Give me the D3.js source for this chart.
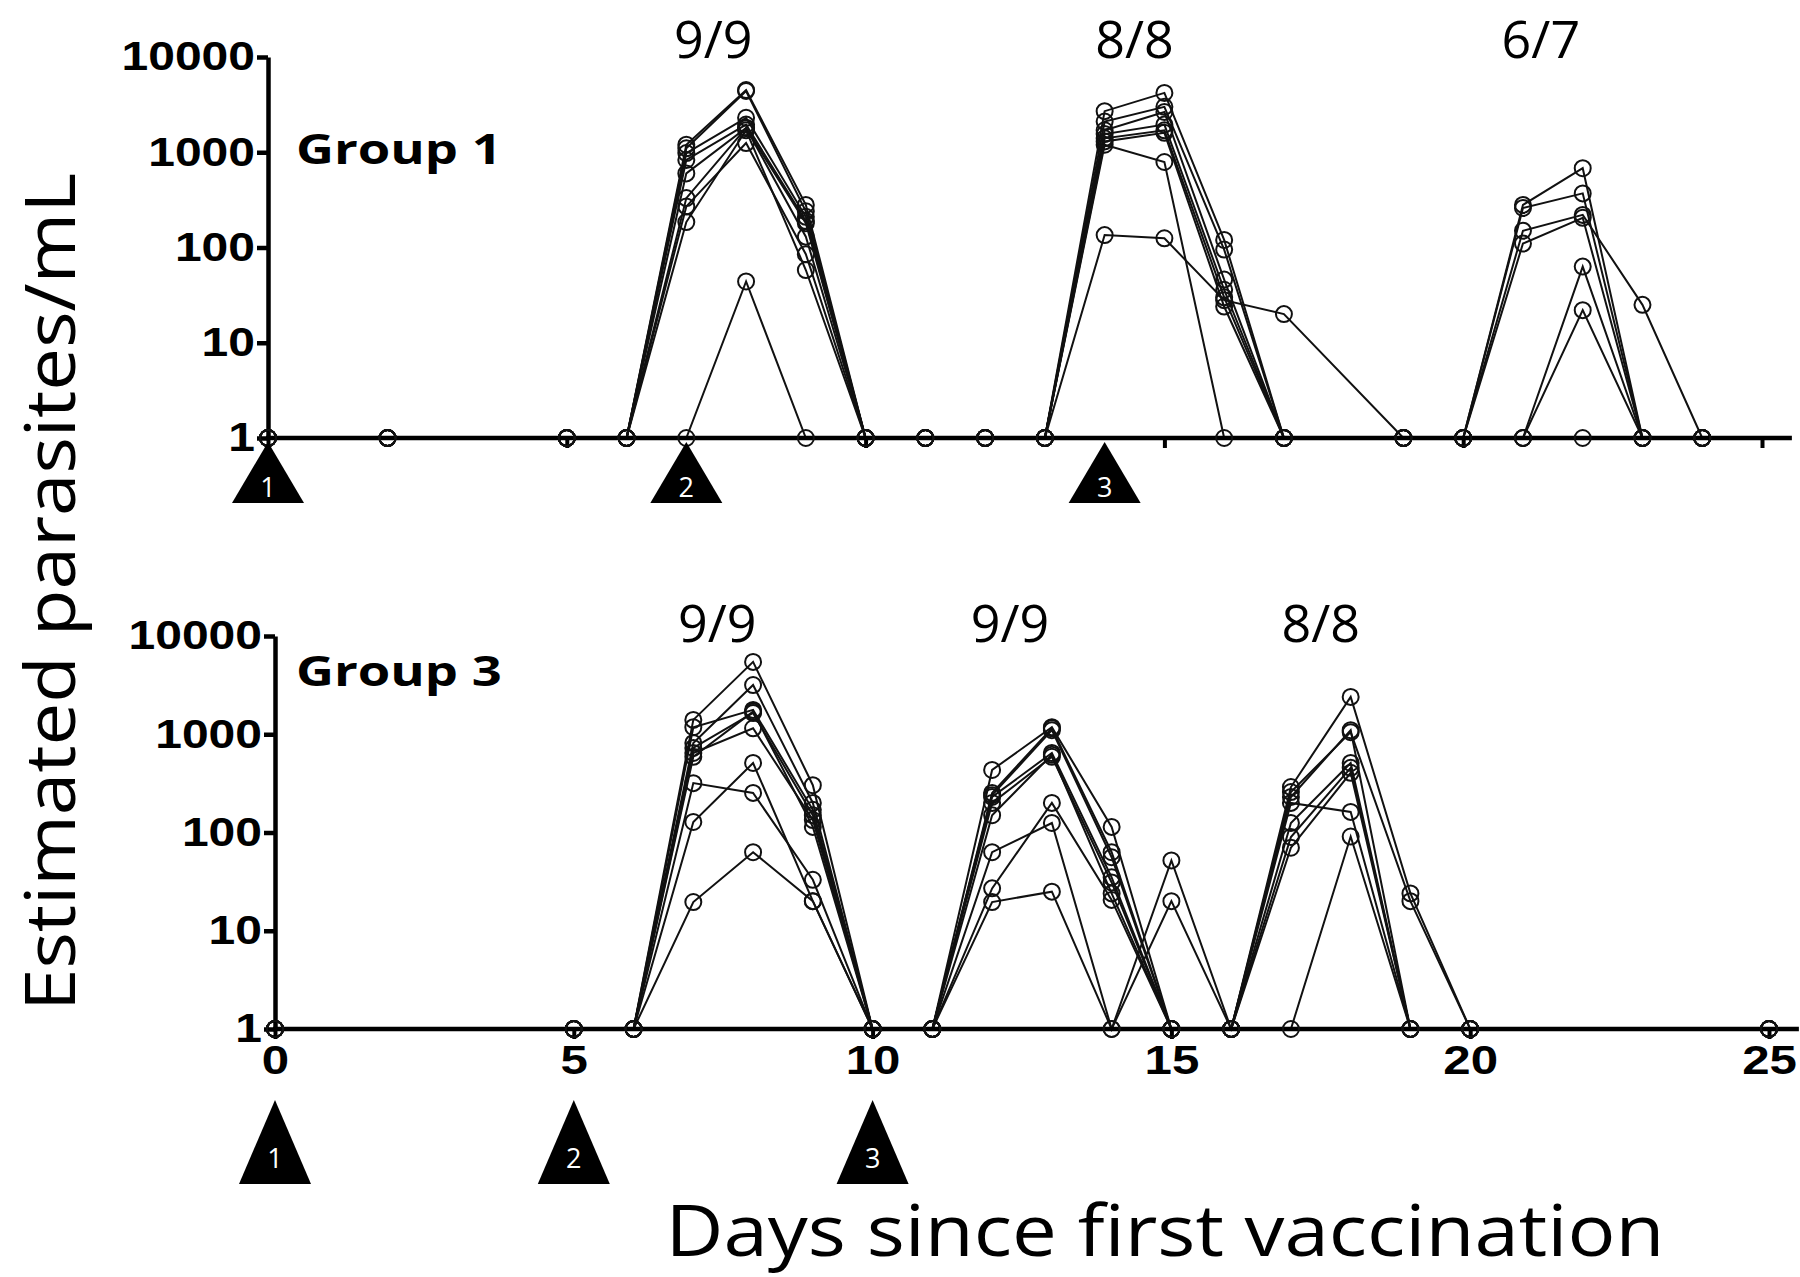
<!DOCTYPE html>
<html>
<head>
<meta charset="utf-8">
<script src="https://cdn.jsdelivr.net/npm/d3@7"></script>
<style>
  body { margin: 0; background: #fff; }
  svg { display: block; }
</style>
</head>
<body>
<svg id="chart"></svg>
<script>
// ---- data ----
// Group 1: sampling days and one row per animal (null = not sampled)
const daysG1 = [0, 2, 5, 6, 7, 8, 9, 10, 11, 12, 13, 14, 15, 16, 17, 19, 20, 21, 22, 23, 24];
const seriesG1 = [
  [1, 1, 1, 1, 1200, 4500, 280, 1, 1, 1, 1, 2700, 4200, 120, 1, 1, 1, 280, 680, 1, 1],
  [1, 1, 1, 1, 1100, 4400, 240, 1, 1, 1, 1, 2100, 3000, 95, 1, 1, 1, 260, 370, 1, 1],
  [1, 1, 1, 1, 980, 2300, 210, 1, 1, 1, 1, 1700, 2650, 46, 1, 1, 1, 150, 220, 25, 1],
  [1, 1, 1, 1, 830, 1950, 190, 1, 1, 1, 1, 1550, 1950, 36, 1, 1, 1, 110, 205, 1, 1],
  [1, 1, 1, 1, 600, 1800, 180, 1, 1, 1, 1, 1400, 1700, 30, 1, 1, 1, 1, 63, 1, 1],
  [1, 1, 1, 1, 330, 1800, 130, 1, 1, 1, 1, 1300, 1600, 24, 1, 1, 1, 1, 22, 1, 1],
  [1, 1, 1, 1, 270, 1250, 85, 1, 1, 1, 1, 1200, 790, 1, 1, 1, 1, 1, 1, 1, 1],
  [1, 1, 1, 1, 185, 1700, 58, 1, 1, 1, 1, 135, 125, 28, 20, 1, null, null, null, null, null],
  [1, 1, 1, 1, 1, 44, 1, 1, 1, 1, 1, null, null, null, null, null, null, null, null, null, null]
];

// Group 3
const daysG3 = [0, 5, 6, 7, 8, 9, 10, 11, 12, 13, 14, 15, 16, 17, 18, 19, 20, 25];
const seriesG3 = [
  [1, 1, 1, 1400, 5450, 303, 1, 1, 433, 1180, 114, 1, 1, 290, 2400, 24, 1, 1],
  [1, 1, 1, 1180, 1770, 170, 1, 1, 253, 1150, 63, 1, 1, 258, 1050, 20, 1, 1],
  [1, 1, 1, 815, 3170, 200, 1, 1, 240, 1100, 56, 1, 1, 230, 1100, 1, 1, 1],
  [1, 1, 1, 725, 1650, 150, 1, 1, 230, 645, 35, 1, 1, 200, 162, 1, 1, 1],
  [1, 1, 1, 645, 1150, 134, 1, 1, 200, 590, 31, 1, 1, 125, 510, 1, 1, 1],
  [1, 1, 1, 590, 1700, 114, 1, 1, 150, 620, 24, 1, 1, 90, 455, 1, 1, 1],
  [1, 1, 1, 318, 253, 33, 1, 1, 63, 125, 1, 52, 1, 70, 405, 1, 1, 1],
  [1, 1, 1, 128, 510, 20, 1, 1, 27, 200, 20.6, 1, 1, 1, 91, 1, 1, 1],
  [1, 1, 1, 19.6, 63, 20, 1, 1, 19.6, 25, 1, 20, 1, null, null, null, null, null]
];

// infected / total labels over each wave
const waveLabelsG1 = ["9/9", "8/8", "6/7"];
const waveDaysG1 = [7.45, 14.5, 21.3];
const waveLabelsG3 = ["9/9", "9/9", "8/8"];
const waveDaysG3 = [7.4, 12.3, 17.5];

// vaccination days
const vaccDaysG1 = [0, 7, 14];
const vaccDaysG3 = [0, 5, 10];
const vaccLabels = ["1", "2", "3"];

const yTicks = [1, 10, 100, 1000, 10000];
const xTicks = [0, 5, 10, 15, 20, 25];

// ---- layout ----
const width = 1800;
const height = 1277;
const tickFont = "'Liberation Sans', Arial, sans-serif";
const textFont = "'Open Sans', 'Noto Sans', sans-serif";
const stretch = 1.2; // the figure's text is a little wider than these fonts

const svg = d3.select('#chart')
    .attr('width', width)
    .attr('height', height);

const panels = [
  {name: "Group 1", days: daysG1, series: seriesG1, waveLabels: waveLabelsG1, waveDays: waveDaysG1,
   vacc: vaccDaysG1, x0: 268, x1: 1762, yBottom: 438, yTop: 57, showXLabels: false,
   labelBase: 58, groupBase: 164, triTop: 442, triBase: 503, numBase: 497},
  {name: "Group 3", days: daysG3, series: seriesG3, waveLabels: waveLabelsG3, waveDays: waveDaysG3,
   vacc: vaccDaysG3, x0: 275, x1: 1769, yBottom: 1029, yTop: 636, showXLabels: true,
   labelBase: 642, groupBase: 686, triTop: 1100, triBase: 1184, numBase: 1168}
];

panels.forEach(function(p) {
  const x = d3.scaleLinear().domain([0, 25]).range([p.x0, p.x1]);
  const y = d3.scaleLog().domain([1, 10000]).range([p.yBottom, p.yTop]);
  const g = svg.append('g');

  // lines per animal
  const line = d3.line()
      .defined(function(d) { return d.v != null; })
      .x(function(d) { return x(d.day); })
      .y(function(d) { return y(d.v); });

  const rows = p.series.map(function(s) {
    return s.map(function(v, i) { return {day: p.days[i], v: v}; });
  });

  g.selectAll('path.subject')
      .data(rows)
      .enter()
      .append('path')
      .attr('class', 'subject')
      .attr('d', line)
      .attr('fill', 'none')
      .attr('stroke', '#111')
      .attr('stroke-width', 2);

  // y axis
  const yAxis = g.append('g')
      .attr('transform', 'translate(' + p.x0 + ',0)')
      .call(d3.axisLeft(y).tickValues(yTicks).tickFormat(d3.format('d')).tickSize(11).tickSizeOuter(0));
  yAxis.select('.domain').attr('stroke', '#000').attr('stroke-width', 4.5);
  yAxis.selectAll('.tick line').attr('stroke', '#000').attr('stroke-width', 4.5);
  yAxis.selectAll('.tick text')
      .attr('fill', '#000')
      .attr('x', 0)
      .attr('transform', 'translate(-13,0) scale(' + stretch + ',1)')
      .style('font-family', tickFont)
      .style('font-weight', 'bold')
      .style('font-size', '40px');

  // x axis
  const xAxis = g.append('g')
      .attr('transform', 'translate(0,' + p.yBottom + ')')
      .call(d3.axisBottom(x).tickValues(xTicks)
        .tickFormat(p.showXLabels ? d3.format('d') : '')
        .tickSize(10).tickSizeOuter(0));
  xAxis.select('.domain').remove();
  xAxis.selectAll('.tick line').attr('stroke', '#000').attr('stroke-width', 4);
  xAxis.selectAll('.tick text')
      .attr('fill', '#000')
      .attr('y', 0)
      .attr('transform', 'translate(0,16) scale(' + stretch + ',1)')
      .style('font-family', tickFont)
      .style('font-weight', 'bold')
      .style('font-size', '41px');
  xAxis.append('line')
      .attr('x1', x(0) - 2)
      .attr('x2', x(25.5))
      .attr('y1', 0)
      .attr('y2', 0)
      .attr('stroke', '#000')
      .attr('stroke-width', 4.5);

  // open circles
  const pts = [];
  rows.forEach(function(r) { r.forEach(function(d) { if (d.v != null) pts.push(d); }); });
  g.selectAll('circle.pt')
      .data(pts)
      .enter()
      .append('circle')
      .attr('class', 'pt')
      .attr('cx', function(d) { return x(d.day); })
      .attr('cy', function(d) { return y(d.v); })
      .attr('r', 8)
      .attr('fill', 'none')
      .attr('stroke', '#111')
      .attr('stroke-width', 2);

  // infected counts
  g.selectAll('text.wave')
      .data(p.waveLabels)
      .enter()
      .append('text')
      .attr('class', 'wave')
      .attr('x', function(d, i) { return x(p.waveDays[i]); })
      .attr('y', p.labelBase)
      .attr('text-anchor', 'middle')
      .style('font-family', textFont)
      .style('font-size', '52px')
      .text(function(d) { return d; });

  // group name
  g.append('text')
      .attr('transform', 'translate(296,' + p.groupBase + ') scale(1.25,1)')
      .style('font-family', textFont)
      .style('font-weight', 'bold')
      .style('font-size', '42px')
      .text(p.name);

  // vaccination triangles
  const tri = g.selectAll('g.vacc')
      .data(p.vacc)
      .enter()
      .append('g')
      .attr('class', 'vacc')
      .attr('transform', function(d) { return 'translate(' + x(d) + ',0)'; });
  tri.append('path')
      .attr('d', 'M0,' + p.triTop + 'L36,' + p.triBase + 'L-36,' + p.triBase + 'Z')
      .attr('fill', '#000');
  tri.append('text')
      .attr('x', 0)
      .attr('y', p.numBase)
      .attr('text-anchor', 'middle')
      .attr('fill', '#fff')
      .style('font-family', textFont)
      .style('font-size', '27px')
      .text(function(d, i) { return vaccLabels[i]; });
});

// axis titles
svg.append('text')
    .attr('transform', 'translate(75,592) rotate(-90)')
    .attr('text-anchor', 'middle')
    .attr('textLength', 838)
    .attr('lengthAdjust', 'spacingAndGlyphs')
    .style('font-family', textFont)
    .style('font-size', '70px')
    .text('Estimated parasites/mL');

svg.append('text')
    .attr('x', 1165)
    .attr('y', 1256)
    .attr('text-anchor', 'middle')
    .attr('textLength', 999)
    .attr('lengthAdjust', 'spacingAndGlyphs')
    .style('font-family', textFont)
    .style('font-size', '72px')
    .text('Days since first vaccination');
</script>
</body>
</html>
